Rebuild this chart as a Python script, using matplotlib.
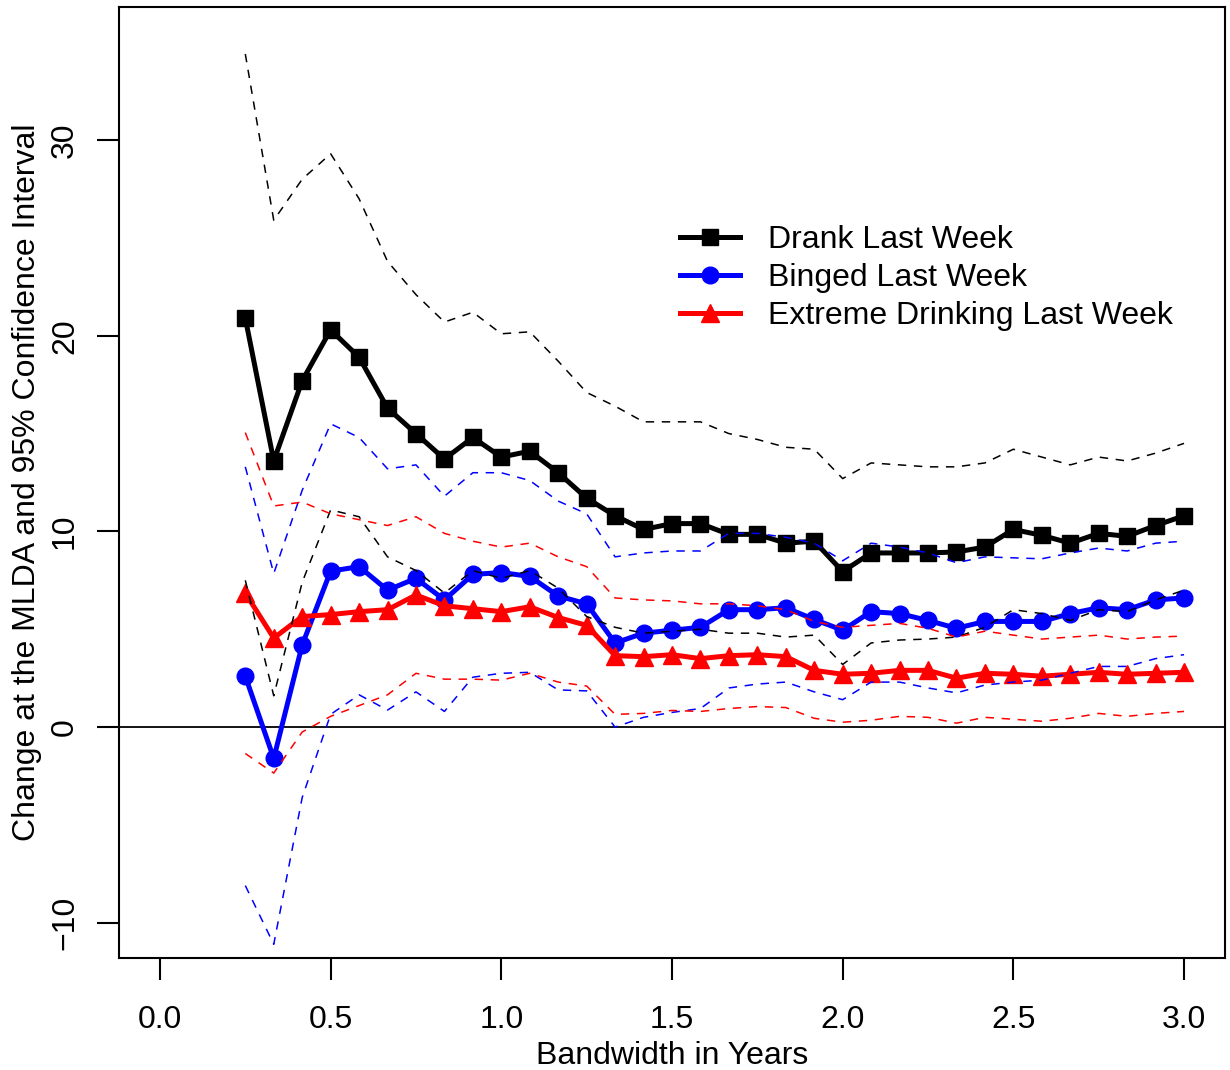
import numpy as np
import matplotlib
matplotlib.use("Agg")
import matplotlib.pyplot as plt

plt.rcParams['font.family'] = ['Liberation Sans', 'DejaVu Sans']

# bandwidth in months (plotted in years)
months = [3, 4, 5, 6, 7, 8, 9, 10, 11, 12, 13, 14, 15, 16, 17, 18, 19, 20,
          21, 22, 23, 24, 25, 26, 27, 28, 29, 30, 31, 32, 33, 34, 35, 36]

drank = [20.9, 13.6, 17.7, 20.3, 18.9, 16.3, 15.0, 13.7, 14.8, 13.8, 14.1, 13.0,
         11.7, 10.8, 10.1, 10.4, 10.4, 9.85, 9.85, 9.4, 9.5, 7.95, 8.9, 8.9,
         8.9, 8.95, 9.2, 10.1, 9.8, 9.4, 9.9, 9.75, 10.3, 10.8]
drank_hi = [34.4, 25.9, 28.0, 29.3, 27.0, 23.8, 22.1, 20.7, 21.2, 20.1, 20.2, 18.7,
            17.1, 16.4, 15.6, 15.6, 15.6, 15.0, 14.7, 14.3, 14.2, 12.7, 13.5, 13.4,
            13.3, 13.3, 13.5, 14.2, 13.8, 13.4, 13.8, 13.6, 14.0, 14.5]
drank_lo = [7.5, 1.6, 7.4, 11.1, 10.75, 8.7, 8.0, 6.85, 8.0, 7.6, 8.0, 7.1,
            5.65, 5.1, 4.8, 4.9, 5.0, 4.8, 4.8, 4.6, 4.7, 3.2, 4.3, 4.45,
            4.5, 4.6, 5.1, 6.0, 5.8, 5.45, 6.0, 5.9, 6.5, 7.0]

binged = [2.6, -1.6, 4.2, 7.97, 8.2, 7.0, 7.6, 6.5, 7.8, 7.9, 7.7, 6.7,
          6.3, 4.3, 4.8, 4.95, 5.1, 6.0, 6.0, 6.1, 5.5, 4.95, 5.9, 5.8,
          5.45, 5.05, 5.4, 5.4, 5.4, 5.8, 6.1, 6.0, 6.5, 6.6]
binged_hi = [13.3, 7.85, 12.1, 15.5, 14.8, 13.2, 13.4, 11.8, 13.0, 13.0, 12.6, 11.55,
             10.9, 8.7, 8.9, 9.0, 9.0, 9.9, 9.9, 9.7, 9.4, 8.5, 9.4, 9.2,
             8.9, 8.4, 8.7, 8.65, 8.6, 8.9, 9.15, 9.0, 9.4, 9.5]
binged_lo = [-8.1, -11.1, -3.6, 0.65, 1.65, 0.87, 1.8, 0.8, 2.55, 2.75, 2.8, 1.9,
             1.85, 0.0, 0.5, 0.75, 0.95, 2.0, 2.2, 2.3, 1.8, 1.4, 2.3, 2.3,
             2.0, 1.75, 2.15, 2.3, 2.4, 2.75, 3.1, 3.1, 3.5, 3.7]

extreme = [6.85, 4.55, 5.65, 5.75, 5.9, 6.0, 6.75, 6.2, 6.05, 5.9, 6.15, 5.6,
           5.2, 3.65, 3.6, 3.7, 3.5, 3.65, 3.7, 3.6, 2.9, 2.7, 2.75, 2.9,
           2.9, 2.5, 2.75, 2.7, 2.6, 2.7, 2.8, 2.7, 2.75, 2.8]
extreme_hi = [15.05, 11.3, 11.5, 10.9, 10.6, 10.3, 10.75, 9.9, 9.5, 9.2, 9.4, 8.7,
              8.2, 6.6, 6.5, 6.45, 6.3, 6.3, 6.2, 6.0, 5.4, 5.1, 5.2, 5.3,
              5.05, 4.6, 4.9, 4.7, 4.5, 4.6, 4.7, 4.5, 4.6, 4.65]
extreme_lo = [-1.35, -2.35, -0.25, 0.55, 1.1, 1.65, 2.75, 2.45, 2.45, 2.4, 2.75, 2.3,
              2.1, 0.65, 0.7, 0.85, 0.8, 0.95, 1.05, 1.0, 0.45, 0.25, 0.35, 0.55,
              0.5, 0.2, 0.5, 0.4, 0.3, 0.45, 0.7, 0.55, 0.7, 0.8]

labels = ['Drank Last Week', 'Binged Last Week', 'Extreme Drinking Last Week']

x = np.array(months) / 12.0

fig = plt.figure(figsize=(12.3, 10.7), dpi=100)
ax = fig.add_axes([119 / 1230, 1 - 958 / 1070, 1106 / 1230, 951 / 1070])

series = [(drank, drank_hi, drank_lo, 'black', 's', 11),
          (binged, binged_hi, binged_lo, 'blue', 'o', 12),
          (extreme, extreme_hi, extreme_lo, 'red', '^', 13)]

for (est, hi, lo, col, mk, ms), lab in zip(series, labels):
    ax.plot(x, est, color=col, lw=3.6, marker=mk, ms=ms, label=lab, zorder=3)
for est, hi, lo, col, mk, ms in series:
    ax.plot(x, hi, color=col, lw=1.1, ls=(0, (5.5, 5)), zorder=4)
    ax.plot(x, lo, color=col, lw=1.1, ls=(0, (5.5, 5)), zorder=4)

ax.axhline(0, color='black', lw=1.3, zorder=2)

ax.set_xlim(-0.12, 3.12)
ax.set_ylim(-11.8, 36.8)
ax.set_xticks([0.0, 0.5, 1.0, 1.5, 2.0, 2.5, 3.0])
ax.set_xticklabels(['0.0', '0.5', '1.0', '1.5', '2.0', '2.5', '3.0'])
ax.set_yticks([-10, 0, 10, 20, 30])
ax.set_yticklabels(['\u221210', '0', '10', '20', '30'], rotation=90, va='center')
ax.tick_params(direction='out', length=16, width=1.5, labelsize=23, pad=12)
ax.tick_params(axis='x', pad=18)
for s in ax.spines.values():
    s.set_linewidth(1.5)

ax.set_xlabel('Bandwidth in Years', fontsize=23, labelpad=4)
ax.set_ylabel('Change at the MLDA and 95% Confidence Interval', fontsize=23, labelpad=6)

ax.legend(loc='upper left', bbox_to_anchor=(0.507, 0.771), frameon=False,
          fontsize=23, handlelength=1.9, handletextpad=0.85, labelspacing=0.26,
          borderpad=0, borderaxespad=0)

fig.savefig('out.png', dpi=100)
